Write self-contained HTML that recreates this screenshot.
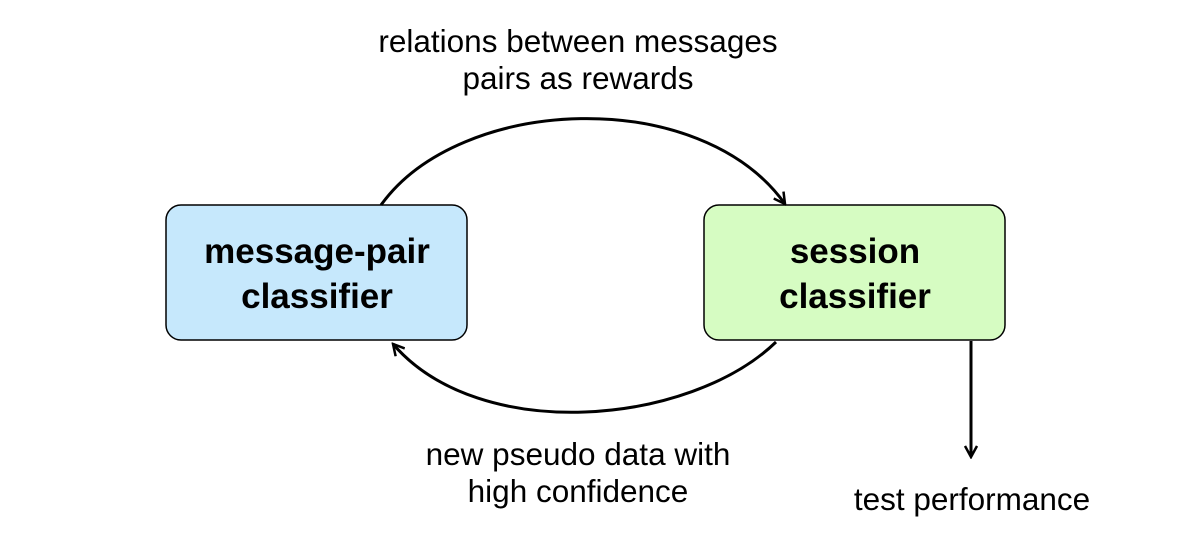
<!DOCTYPE html>
<html><head><meta charset="utf-8"><style>
body{margin:0;background:#fff;}
svg{display:block;font-family:"Liberation Sans",Arial,sans-serif;}
</style></head><body>
<svg width="1177" height="542" viewBox="0 0 1177 542">
<defs>
<marker id="a" markerWidth="14" markerHeight="14" refX="12" refY="7" orient="auto" markerUnits="userSpaceOnUse">
<path d="M1,1 L12,7 L1,13" fill="none" stroke="#000" stroke-width="2.5"/>
</marker>
</defs>
<rect x="166" y="205" width="301" height="135" rx="15" fill="#c6e8fc" stroke="#000" stroke-width="1.5"/>
<rect x="704" y="205" width="301" height="135" rx="15" fill="#d6fcc2" stroke="#000" stroke-width="1.5"/>
<g font-size="35" font-weight="bold" text-anchor="middle" fill="#000">
<text x="317" y="263">message-pair</text>
<text x="317" y="308">classifier</text>
<text x="855" y="263">session</text>
<text x="855" y="308">classifier</text>
</g>
<g fill="none" stroke="#000" stroke-width="3">
<path d="M381,205 C460,95 700,85 785,204" marker-end="url(#a)"/>
<path d="M776,342 C690,425 480,445 393,344" marker-end="url(#a)"/>
<path d="M971,341 L971,457" marker-end="url(#a)"/>
</g>
<g font-size="31.5" text-anchor="middle" fill="#000">
<text x="578" y="52">relations between messages</text>
<text x="578" y="89">pairs as rewards</text>
<text x="578" y="465">new pseudo data with</text>
<text x="578" y="502">high confidence</text>
<text x="972" y="510">test performance</text>
</g>
</svg>
</body></html>
